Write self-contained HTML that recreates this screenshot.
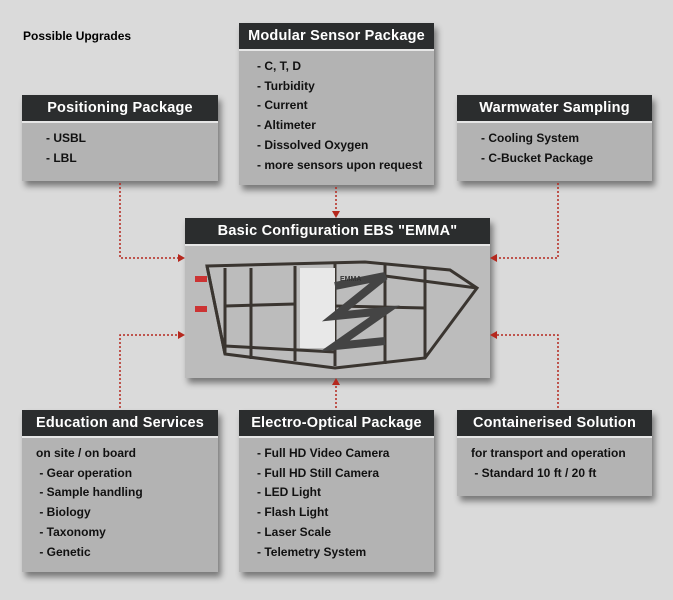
<!DOCTYPE html>
<html><head><style>
body{margin:0;width:673px;height:600px;background:#dadada;position:relative;overflow:hidden;font-family:"Liberation Sans",sans-serif}
.box{position:absolute;background:#b3b3b3;box-shadow:3px 5px 6px rgba(0,0,0,.45)}
.hd{background:#2b2d2e;color:#fff;font-weight:bold;font-size:14.5px;height:26px;line-height:26px;text-align:center;border-bottom:2px solid #e6e6e6;letter-spacing:.2px}
.bd{font-size:12px;color:#111;line-height:19.7px;padding:6px 0 0 24px;font-weight:bold}
.t{position:absolute;font-size:12px;font-weight:bold;left:23px;top:29px}
svg{position:absolute;left:0;top:0}
</style></head><body>
<div class="t">Possible Upgrades</div>
<div class="box" style="left:22px;top:95px;width:196px;height:86px"><div class="hd">Positioning Package</div><div class="bd">- USBL<br>- LBL</div></div>
<div class="box" style="left:239px;top:23px;width:195px;height:162px"><div class="hd">Modular Sensor Package</div><div class="bd" style="padding-left:18px">- C, T, D<br>- Turbidity<br>- Current<br>- Altimeter<br>- Dissolved Oxygen<br>- more sensors upon request</div></div>
<div class="box" style="left:457px;top:95px;width:195px;height:86px"><div class="hd">Warmwater Sampling</div><div class="bd">- Cooling System<br>- C-Bucket Package</div></div>
<div class="box" style="left:185px;top:218px;width:305px;height:160px;background:#bcbcbc"><div class="hd">Basic Configuration EBS "EMMA"</div>
<svg width="305" height="134" style="top:28px" viewBox="0 0 305 134">
<g stroke="#3a3530" stroke-width="3" fill="none">
<path d="M22 20 L180 16 L265 24 L292 42 L240 112 L150 122 L40 108 L22 20Z"/>
<path d="M40 22 L40 108 M66 22 L66 113 M110 20 L110 115 M150 18 L150 120 M200 18 L200 118 M240 22 L240 112 M22 20 L40 108"/>
<path d="M40 60 L110 58 M40 100 L150 106 M200 30 L292 42 M150 60 L240 62"/>
</g>
<rect x="115" y="22" width="35" height="80" fill="#e8e8e8"/>
<path d="M150 40 L200 30 L150 70 L200 65 L150 100 L200 95" stroke="#444" stroke-width="8" fill="none"/>
<rect x="10" y="30" width="12" height="6" fill="#c33"/><rect x="10" y="60" width="12" height="6" fill="#c33"/>
<text x="155" y="35" font-size="7" font-weight="bold" fill="#333">EMMA</text>
</svg></div>
<div class="box" style="left:22px;top:410px;width:196px;height:162px"><div class="hd">Education and Services</div><div class="bd" style="padding-left:14px">on site / on board<br>&nbsp;- Gear operation<br>&nbsp;- Sample handling<br>&nbsp;- Biology<br>&nbsp;- Taxonomy<br>&nbsp;- Genetic</div></div>
<div class="box" style="left:239px;top:410px;width:195px;height:162px"><div class="hd">Electro-Optical Package</div><div class="bd" style="padding-left:18px">- Full HD Video Camera<br>- Full HD Still Camera<br>- LED Light<br>- Flash Light<br>- Laser Scale<br>- Telemetry System</div></div>
<div class="box" style="left:457px;top:410px;width:195px;height:86px"><div class="hd">Containerised Solution</div><div class="bd" style="padding-left:14px">for transport and operation<br>&nbsp;- Standard 10 ft / 20 ft</div></div>
<svg width="673" height="600">
<g stroke="#b5281e" stroke-width="1.5" stroke-dasharray="2 2" fill="none">
<path d="M120 183 V258 H180"/><path d="M336 187 V212"/><path d="M558 183 V258 H496"/>
<path d="M120 408 V335 H180"/><path d="M336 408 V384"/><path d="M558 408 V335 H496"/>
</g>
<g fill="#b5281e">
<path d="M185 258 l-7 -4 v8z"/><path d="M336 218 l-4 -7 h8z"/><path d="M490 258 l7 -4 v8z"/>
<path d="M185 335 l-7 -4 v8z"/><path d="M336 378 l-4 7 h8z"/><path d="M490 335 l7 -4 v8z"/>
</g></svg>
</body></html>
